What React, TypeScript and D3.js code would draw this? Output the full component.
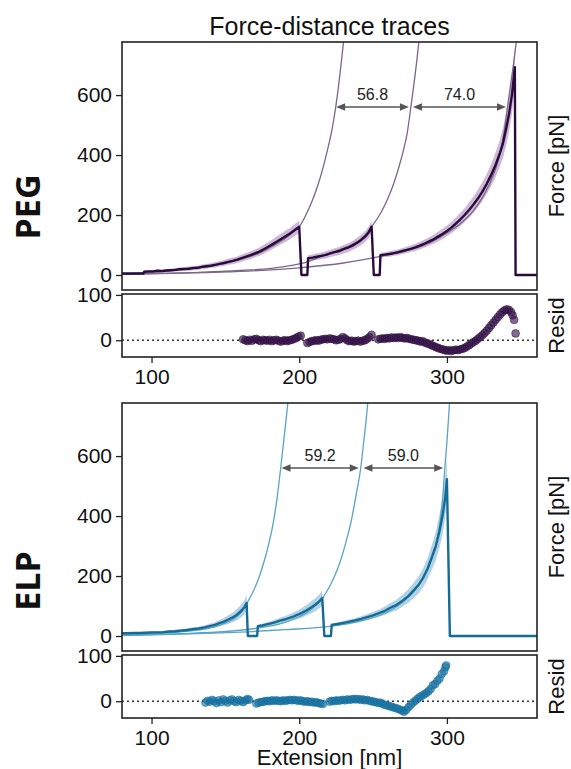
import { useEffect, useRef } from "react";
import * as d3 from "d3";

const SANS = "'Liberation Sans', Arial, Helvetica, sans-serif";

const xTicks = [100, 200, 300];
const forceTicks = [0, 200, 400, 600];
const residTicks = [0, 100];

// ---------- PEG ----------
// mean trace segments: [extension nm, force pN, sd pN]
const pegLead = [[80, 5], [94.5, 5]];
const pegSeg1 = [
  [95, 11, 4], [98, 12, 4], [101, 12, 4], [104, 14, 5], [107, 13, 5], [110, 15, 5], [113, 16, 5],
  [116, 17, 6], [119, 19, 6], [122, 20, 6], [125, 21, 7], [128, 23, 7], [131, 24, 7], [134, 27, 8],
  [137, 29, 8], [140, 31, 8], [143, 34, 9], [146, 37, 9], [149, 40, 10], [152, 44, 10], [155, 47, 11],
  [158, 51, 11], [161, 56, 12], [164, 61, 12], [167, 66, 13], [170, 72, 13], [173, 78, 14],
  [176, 86, 15], [179, 94, 15], [182, 103, 16], [185, 112, 17], [188, 121, 18], [191, 130, 19],
  [194, 139, 19], [197, 150, 20], [200, 161, 20],
];
const pegSeg2 = [
  [206, 56, 10], [209, 58, 10], [212, 61, 11], [215, 64, 11], [218, 67, 12], [221, 72, 12],
  [224, 76, 13], [227, 80, 13], [230, 86, 14], [233, 91, 15], [236, 98, 15], [239, 107, 16],
  [242, 117, 17], [245, 130, 18], [247, 142, 19], [249, 161, 20],
];
const pegSeg3 = [
  [255, 66, 8], [258, 68, 8], [261, 70, 9], [264, 73, 9], [267, 76, 10], [270, 80, 10], [273, 84, 11],
  [276, 88, 11], [279, 93, 12], [282, 99, 13], [285, 105, 13], [288, 112, 14], [291, 119, 15],
  [294, 128, 16], [297, 137, 17], [300, 147, 18], [303, 158, 19], [306, 171, 20], [309, 185, 22],
  [312, 200, 23], [315, 217, 25], [318, 235, 27], [321, 255, 29], [324, 278, 31], [327, 304, 34],
  [330, 334, 37], [333, 368, 41], [336, 408, 45], [338, 440, 50], [340, 485, 55], [342, 535, 60],
  [344, 600, 65], [346, 693, 70],
];
const pegGaps = [[201.5, 205.5], [250.5, 254.5], [346.5, 361]];
const pegFit1 = [
  [80, 4], [100, 9], [120, 18], [140, 30], [160, 52], [175, 78], [185, 105], [192, 128], [197, 148],
  [200, 161], [205, 205], [209, 250], [213, 305], [216.5, 365], [219.5, 425], [222, 480],
  [224.7, 560], [226.5, 625], [228.5, 710], [230.5, 800],
];
const pegFit2 = [
  [80, 2], [120, 7], [160, 15], [190, 28], [206, 45], [215, 62], [225, 80], [235, 100], [242, 120],
  [246, 140], [249, 161], [255, 205], [260, 255], [264, 305], [267.5, 360], [270.5, 415], [273, 470],
  [275.6, 560], [277.5, 630], [279.5, 710], [281.5, 800],
];
const pegFit3 = [
  [80, 2], [120, 6], [160, 12], [200, 24], [230, 40], [255, 62], [270, 78], [285, 100], [300, 140],
  [310, 175], [318, 215], [324, 258], [329, 305], [333, 355], [336, 405], [338.5, 470], [341, 560],
  [343, 630], [345, 700], [347, 780], [348, 830],
];
const pegArrowFrom = [225, 277];
const pegArrowTo = [274.3, 340];
const pegArrowLabels = ["56.8", "74.0"];
const pegResid = [
  [162, 2], [163.5, 0], [165, -2], [166.5, 1], [168, -1], [169.5, 2], [171, 3], [172.5, 0], [174, -2],
  [175.5, 1], [177, 0], [178.5, -1], [180, 1], [181.5, -2], [183, 0], [184.5, 1], [186, -1],
  [187.5, -3], [189, -1], [190.5, 0], [192, -2], [193.5, 0], [195, 1], [196.5, 3], [198, 5],
  [199.5, 8], [201, 10],
  [205.5, -6], [207, -4], [208.5, -2], [210, -1], [211.5, 0], [213, -1], [214.5, 1], [216, 2],
  [217.5, 3], [219, 2], [220.5, 4], [222, 3], [223.5, 2], [225, 0], [226.5, 1], [228, 3], [229.5, 7],
  [231, 4], [232.5, 0], [234, -2], [235.5, -1], [237, -3], [238.5, -2], [240, -1], [241.5, -3],
  [243, -1], [244.5, 0], [246, 3], [247.5, 7], [249, 12],
  [253.5, 2], [255, 3], [256.5, 4], [258, 3], [259.5, 5], [261, 4], [262.5, 6], [264, 5], [265.5, 6],
  [267, 5], [268.5, 7], [270, 5], [271.5, 4], [273, 5], [274.5, 3], [276, 2], [277.5, 1], [279, 0],
  [280.5, -1], [282, -3], [283.5, -2], [285, -5], [286.5, -7], [288, -8], [289.5, -11], [291, -13],
  [292.5, -15], [294, -17], [295.5, -19], [297, -20], [298.5, -22], [300, -23], [301.5, -22],
  [303, -24], [304.5, -22], [306, -21], [307.5, -22], [309, -20], [310.5, -19], [312, -17],
  [313.5, -14], [315, -11], [316.5, -7], [318, -4], [319.5, -1], [321, 3], [322.5, 7], [324, 11],
  [325.5, 16], [327, 21], [328.5, 27], [330, 33], [331.5, 39], [333, 45], [334.5, 51], [336, 57],
  [337.5, 62], [339, 66], [340.5, 68], [342, 67], [343.5, 62], [344.5, 55], [345.5, 45], [346.5, 15],
];

// ---------- ELP ----------
const elpLead: number[][] = [];
const elpSeg1 = [
  [80, 9, 3], [84, 9, 3], [88, 10, 3], [92, 10, 3], [96, 11, 3], [100, 12, 4], [104, 12, 4],
  [108, 13, 4], [112, 15, 4], [116, 16, 5], [120, 18, 5], [124, 20, 5], [128, 23, 6], [132, 25, 6],
  [136, 29, 7], [140, 34, 8], [143, 37, 9], [146, 43, 10], [149, 48, 12], [152, 55, 14],
  [155, 62, 16], [158, 72, 19], [161, 85, 22], [163, 97, 24], [164.4, 110, 26],
];
const elpSeg2 = [
  [172, 33, 5], [175, 35, 6], [178, 39, 7], [181, 42, 8], [184, 46, 9], [187, 51, 10], [190, 55, 11],
  [193, 60, 12], [196, 65, 13], [199, 71, 14], [202, 78, 16], [205, 86, 18], [208, 95, 20],
  [211, 105, 22], [213.5, 115, 23], [215.6, 127, 24],
];
const elpSeg3 = [
  [222, 37, 5], [226, 40, 6], [230, 44, 6], [234, 48, 7], [238, 52, 8], [242, 57, 9], [246, 63, 10],
  [250, 69, 11], [254, 76, 12], [258, 84, 14], [262, 95, 16], [266, 104, 18], [270, 118, 20],
  [274, 134, 23], [278, 155, 26], [281, 172, 29], [284, 195, 32], [287, 225, 36], [290, 265, 42],
  [292.5, 300, 48], [295, 350, 55], [297, 400, 62], [298.8, 460, 70], [300, 523, 75],
];
const elpGaps = [[165.2, 171.5], [217, 221.5], [302, 361]];
const elpFit1 = [
  [80, 4], [100, 8], [120, 14], [135, 22], [145, 34], [152, 48], [157, 62], [161, 80], [164.4, 108],
  [168, 140], [172, 185], [176, 245], [179.5, 310], [182.5, 380], [185, 460], [187.5, 562],
  [189.5, 650], [191.5, 740], [193, 810],
];
const elpFit2 = [
  [80, 3], [120, 8], [150, 15], [170, 25], [180, 33], [190, 45], [198, 60], [205, 78], [210, 97],
  [215.6, 125], [220, 160], [224, 200], [228, 252], [232, 320], [235.5, 390], [238.5, 470],
  [241.7, 562], [243.5, 640], [245.5, 730], [247, 810],
];
const elpFit3 = [
  [80, 2], [120, 6], [160, 13], [190, 21], [222, 33], [240, 48], [255, 70], [265, 95], [274, 130],
  [281, 170], [286, 215], [290, 265], [293, 315], [295.5, 385], [297.2, 465], [298.6, 562],
  [300.2, 660], [301.8, 780], [302.8, 850],
];
const elpArrowFrom = [188, 243.5];
const elpArrowTo = [240.3, 297.5];
const elpArrowLabels = ["59.2", "59.0"];
const elpResid = [
  [136.5, -3], [138, 1], [139.5, -1], [141, 3], [142.5, 0], [144, -4], [145.5, 2], [147, -2],
  [148.5, 4], [150, 1], [151.5, -3], [153, 2], [154.5, 4], [156, 0], [157.5, -2], [159, 3],
  [160.5, 1], [162, -2], [163.5, 2], [165, 5], [166, 3],
  [171, -5], [172.5, -3], [174, -2], [175.5, -1], [177, 0], [178.5, 1], [180, 0], [181.5, 2],
  [183, 1], [184.5, 2], [186, 1], [187.5, 0], [189, 2], [190.5, 1], [192, 2], [193.5, 3], [195, 2],
  [196.5, 3], [198, 2], [199.5, 1], [201, 2], [202.5, 0], [204, -1], [205.5, 0], [207, -2],
  [208.5, -1], [210, -3], [211.5, -2], [213, -4], [214.5, -5], [216, -6],
  [220.5, -1], [222, 1], [223.5, 0], [225, 2], [226.5, 1], [228, 2], [229.5, 3], [231, 2],
  [232.5, 4], [234, 3], [235.5, 4], [237, 5], [238.5, 4], [240, 5], [241.5, 3], [243, 4], [244.5, 2],
  [246, 3], [247.5, 1], [249, 0], [250.5, -1], [252, -2], [253.5, -4], [255, -3], [256.5, -6],
  [258, -8], [259.5, -9], [261, -11], [262.5, -12], [264, -14], [265.5, -15], [267, -17],
  [268.5, -19], [270, -21], [271, -23], [272.5, -19], [274, -13], [275.5, -8], [277, -3],
  [278.5, 1], [280, 5], [281.5, 9], [283, 12], [284.5, 15], [286, 18], [287.5, 22], [289, 27],
  [290.5, 35], [292, 38], [293.5, 45], [295, 50], [296.5, 60], [298, 66], [299, 75], [299.5, 79],
];

const blocks = [
  {
    name: "PEG", offset: 0, labelY: 207,
    lead: pegLead, segs: [pegSeg1, pegSeg2, pegSeg3], gaps: pegGaps,
    fits: [pegFit1, pegFit2, pegFit3],
    arrowFrom: pegArrowFrom, arrowTo: pegArrowTo, arrowLabels: pegArrowLabels,
    resid: pegResid,
    trace: "#2a0a3c", band: "#c4abcf", fit: "#7b6787", dot: "#341247",
  },
  {
    name: "ELP", offset: 361, labelY: 581,
    lead: elpLead, segs: [elpSeg1, elpSeg2, elpSeg3], gaps: elpGaps,
    fits: [elpFit1, elpFit2, elpFit3],
    arrowFrom: elpArrowFrom, arrowTo: elpArrowTo, arrowLabels: elpArrowLabels,
    resid: elpResid,
    trace: "#146b95", band: "#a6cae0", fit: "#5aa3c6", dot: "#17719f",
  },
];

const PL = 122, PR = 537;
const MAIN_TOP = 42, MAIN_BOTTOM = 290;
const RES_TOP = 294, RES_BOTTOM = 357;

function drawBlock(root, b) {
  const g = root.append("g").attr("transform", `translate(0,${b.offset})`);
  const x = d3.scaleLinear().domain([80, 361]).range([PL, PR]);
  const y = d3.scaleLinear().domain([-50, 777]).range([MAIN_BOTTOM, MAIN_TOP]);
  const yr = d3.scaleLinear().domain([-37, 102]).range([RES_BOTTOM, RES_TOP]);

  const clipId = "clip-" + b.name;
  g.append("clipPath").attr("id", clipId)
    .append("rect").attr("x", PL).attr("y", MAIN_TOP)
    .attr("width", PR - PL).attr("height", MAIN_BOTTOM - MAIN_TOP);
  const resClip = "rclip-" + b.name;
  g.append("clipPath").attr("id", resClip)
    .append("rect").attr("x", PL).attr("y", RES_TOP)
    .attr("width", PR - PL).attr("height", RES_BOTTOM - RES_TOP);

  const plot = g.append("g").attr("clip-path", `url(#${clipId})`);

  // sd band
  const area = d3.area()
    .x((d) => x(d[0]))
    .y0((d) => y(d[1] - d[2]))
    .y1((d) => y(d[1] + d[2]));
  b.segs.forEach((s) => {
    plot.append("path").attr("d", area(s)).attr("fill", b.band).attr("opacity", 0.85);
  });

  // WLC fits
  const fitLine = d3.line().x((d) => x(d[0])).y((d) => y(d[1])).curve(d3.curveMonotoneX);
  b.fits.forEach((f) => {
    plot.append("path").attr("d", fitLine(f)).attr("fill", "none")
      .attr("stroke", b.fit).attr("stroke-width", 1.3);
  });

  // mean trace with ruptures
  let pts = [...b.lead];
  b.segs.forEach((s, i) => {
    s.forEach((p) => pts.push([p[0], p[1]]));
    pts.push([b.gaps[i][0], 0]);
    pts.push([b.gaps[i][1], 0]);
  });
  const traceLine = d3.line().x((d) => x(d[0])).y((d) => y(d[1]));
  plot.append("path").attr("d", traceLine(pts)).attr("fill", "none")
    .attr("stroke", b.trace).attr("stroke-width", 2.4).attr("stroke-linejoin", "round");

  // contour length increments
  b.arrowFrom.forEach((a, i) => {
    const x0 = x(a), x1 = x(b.arrowTo[i]), ya = y(560);
    g.append("line").attr("x1", x0 + 6).attr("x2", x1 - 6).attr("y1", ya).attr("y2", ya)
      .attr("stroke", "#555").attr("stroke-width", 1.4);
    g.append("path").attr("d", `M${x0},${ya} L${x0 + 9},${ya - 3.8} L${x0 + 9},${ya + 3.8} Z`).attr("fill", "#555");
    g.append("path").attr("d", `M${x1},${ya} L${x1 - 9},${ya - 3.8} L${x1 - 9},${ya + 3.8} Z`).attr("fill", "#555");
    g.append("text").attr("x", (x0 + x1) / 2).attr("y", y(605) + 6)
      .attr("text-anchor", "middle").attr("font-family", SANS).attr("font-size", 16)
      .attr("fill", "#222").text(b.arrowLabels[i]);
  });

  // main frame + y axis
  g.append("rect").attr("x", PL).attr("y", MAIN_TOP).attr("width", PR - PL)
    .attr("height", MAIN_BOTTOM - MAIN_TOP).attr("fill", "none")
    .attr("stroke", "#222").attr("stroke-width", 1.6);
  const ya = g.append("g").attr("transform", `translate(${PL},0)`)
    .call(d3.axisLeft(y).tickValues(forceTicks).tickSize(6).tickPadding(4));
  ya.select(".domain").remove();
  ya.selectAll("text").attr("font-family", SANS).attr("font-size", 21).attr("fill", "#111");
  ya.selectAll("line").attr("stroke", "#222").attr("stroke-width", 1.3);

  // residuals
  g.append("rect").attr("x", PL).attr("y", RES_TOP).attr("width", PR - PL)
    .attr("height", RES_BOTTOM - RES_TOP).attr("fill", "#fff");
  g.append("line").attr("x1", PL).attr("x2", PR).attr("y1", yr(0)).attr("y2", yr(0))
    .attr("stroke", "#333").attr("stroke-width", 1.3).attr("stroke-dasharray", "2,3");
  g.append("g").attr("clip-path", `url(#${resClip})`)
    .selectAll("circle").data(b.resid).enter().append("circle")
    .attr("cx", (d) => x(d[0])).attr("cy", (d) => yr(d[1])).attr("r", 3.9)
    .attr("fill", b.dot).attr("fill-opacity", 0.62)
    .attr("stroke", b.dot).attr("stroke-opacity", 0.7).attr("stroke-width", 0.8);
  g.append("rect").attr("x", PL).attr("y", RES_TOP).attr("width", PR - PL)
    .attr("height", RES_BOTTOM - RES_TOP).attr("fill", "none")
    .attr("stroke", "#222").attr("stroke-width", 1.6);
  const yra = g.append("g").attr("transform", `translate(${PL},0)`)
    .call(d3.axisLeft(yr).tickValues(residTicks).tickSize(6).tickPadding(4));
  yra.select(".domain").remove();
  yra.selectAll("text").attr("font-family", SANS).attr("font-size", 21).attr("fill", "#111");
  yra.selectAll("line").attr("stroke", "#222").attr("stroke-width", 1.3);
  const xa = g.append("g").attr("transform", `translate(0,${RES_BOTTOM})`)
    .call(d3.axisBottom(x).tickValues(xTicks).tickSize(6).tickPadding(6));
  xa.select(".domain").remove();
  xa.selectAll("text").attr("font-family", SANS).attr("font-size", 21).attr("fill", "#111");
  xa.selectAll("line").attr("stroke", "#222").attr("stroke-width", 1.3);

  // side labels
  g.append("text").attr("transform", `translate(564,${(MAIN_TOP + MAIN_BOTTOM) / 2}) rotate(-90)`)
    .attr("text-anchor", "middle").attr("font-family", SANS).attr("font-size", 22)
    .attr("fill", "#111").text("Force [pN]");
  g.append("text").attr("transform", `translate(564,${(RES_TOP + RES_BOTTOM) / 2}) rotate(-90)`)
    .attr("text-anchor", "middle").attr("font-family", SANS).attr("font-size", 22)
    .attr("fill", "#111").text("Resid");
  g.append("text").attr("transform", `translate(40,${b.labelY - b.offset}) rotate(-90)`)
    .attr("text-anchor", "middle").attr("font-family", "'Open Sans', sans-serif")
    .attr("font-weight", 700).attr("font-size", 34).attr("fill", "#111").text(b.name);
}

export default function App() {
  const ref = useRef(null);

  useEffect(() => {
    const svg = d3.select(ref.current);
    svg.selectAll("*").remove();
    svg.append("rect").attr("width", 571).attr("height", 769).attr("fill", "#fff");
    svg.append("text").attr("x", (PL + PR) / 2).attr("y", 35).attr("text-anchor", "middle")
      .attr("font-family", SANS).attr("font-size", 25).attr("fill", "#111")
      .text("Force-distance traces");
    blocks.forEach((b) => drawBlock(svg, b));
    svg.append("text").attr("x", (PL + PR) / 2).attr("y", 765).attr("text-anchor", "middle")
      .attr("font-family", SANS).attr("font-size", 22).attr("fill", "#111")
      .text("Extension [nm]");
  }, []);

  return (
    <svg ref={ref} width={571} height={769}
      style={{ position: "absolute", left: 0, top: 0, display: "block" }} />
  );
}
